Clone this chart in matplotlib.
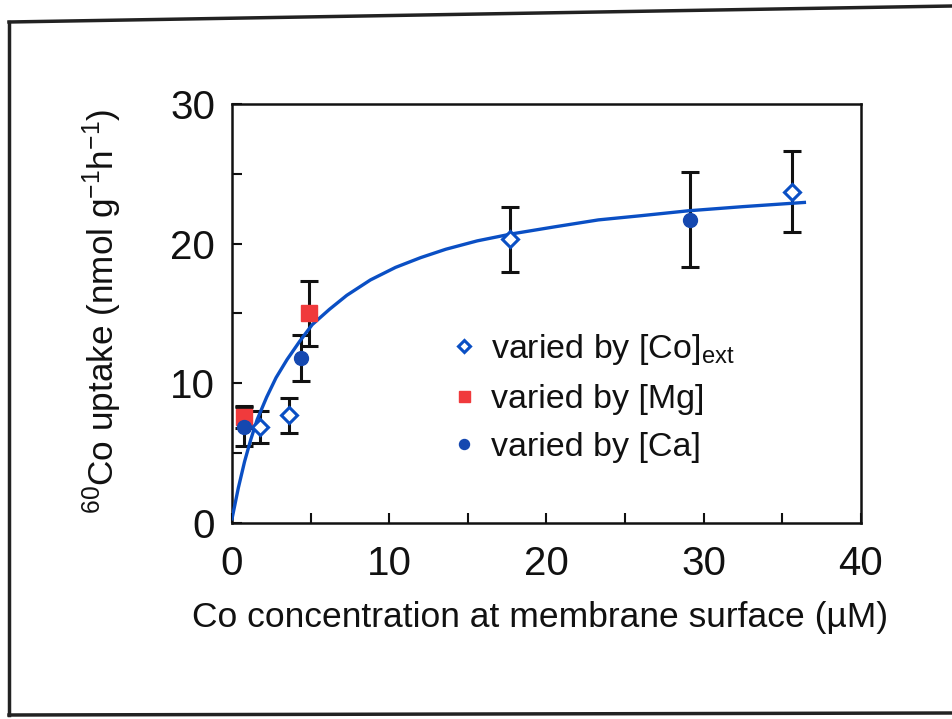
import numpy as np
import matplotlib
matplotlib.use("Agg")
import matplotlib.pyplot as plt
from matplotlib.lines import Line2D
from matplotlib.ticker import MultipleLocator

plt.rcParams["font.family"] = ["Liberation Sans", "DejaVu Sans"]
plt.rcParams["mathtext.default"] = "regular"

# data
co_x = [1.8, 3.6, 17.7, 35.6]
co_y = [6.9, 7.7, 20.3, 23.7]
co_err = [1.15, 1.25, 2.35, 2.9]

mg_x = [0.75, 4.9]
mg_y = [7.6, 15.0]
mg_err = [0.8, 2.3]

ca_x = [0.75, 4.4, 29.1]
ca_y = [6.9, 11.8, 21.7]
ca_err = [1.4, 1.65, 3.4]

# fitted saturation curve
fit_x = [0, 0.4, 0.8, 1.2, 1.6, 2.2, 2.8, 3.5, 4.3, 5.1, 6.2, 7.3, 8.8,
         10.4, 12.0, 13.6, 15.6, 17.8, 20.5, 23.3, 26.0, 29.0, 32.5, 36.4]
fit_y = [0.3, 2.5, 4.4, 6.0, 7.4, 9.0, 10.4, 11.7, 13.0, 14.2, 15.3, 16.3, 17.4,
         18.3, 19.0, 19.6, 20.2, 20.7, 21.2, 21.7, 22.0, 22.35, 22.65, 22.95]

BLUE = "#0a4fc4"
DARKBLUE = "#1548b0"
RED = "#f03a3c"
INK = "#111111"

fig = plt.figure(figsize=(9.52, 7.19), dpi=100)
ax = fig.add_axes([0.2437, 0.2726, 0.6607, 0.5828])

eb = dict(fmt="none", ecolor=INK, elinewidth=2.2, capsize=6.5, capthick=2.2, zorder=2)
ax.errorbar(co_x, co_y, yerr=co_err, **eb)
ax.errorbar(mg_x, mg_y, yerr=mg_err, **eb)
ax.errorbar(ca_x, ca_y, yerr=ca_err, **eb)

ax.plot(fit_x, fit_y, color=BLUE, lw=2.4, zorder=3)

ax.plot(co_x, co_y, ls="none", marker="D", ms=8.5, mfc="white", mec=BLUE, mew=2.2,
        zorder=5, label="varied by [Co]$_{ext}$")
ax.plot(mg_x, mg_y, ls="none", marker="s", ms=11, mfc=RED, mec=RED,
        zorder=4, label="varied by [Mg]")
ax.plot(ca_x, ca_y, ls="none", marker="o", ms=10, mfc=DARKBLUE, mec=DARKBLUE,
        zorder=5, label="varied by [Ca]")

ax.set_xlim(0, 40)
ax.set_ylim(0, 30)
ax.xaxis.set_major_locator(MultipleLocator(10))
ax.xaxis.set_minor_locator(MultipleLocator(5))
ax.yaxis.set_major_locator(MultipleLocator(10))
ax.yaxis.set_minor_locator(MultipleLocator(5))
ax.tick_params(which="both", direction="in", length=7, width=1.5, labelsize=29,
               colors=INK, pad=12)
ax.tick_params(axis="x", pad=16)
for s in ax.spines.values():
    s.set_linewidth(1.8)
    s.set_color(INK)

ax.set_xlabel("Co concentration at membrane surface (\u00b5M)", fontsize=25.5, color=INK)
ax.set_ylabel("$^{60}$Co uptake (nmol g$^{-1}$h$^{-1}$)", fontsize=25.3, color=INK)
ax.xaxis.set_label_coords(0.49, -0.185)
ax.yaxis.set_label_coords(-0.172, 0.505)

leg = ax.legend(loc="upper left", bbox_to_anchor=(0.326, 0.497), frameon=False,
                fontsize=24.5, handlelength=0.6, handletextpad=0.5, labelspacing=0.5,
                borderpad=0)
for t in leg.get_texts():
    t.set_color(INK)
for h in leg.legend_handles:
    h.set_markersize(h.get_markersize() * 0.72)

# scanned outer frame
fig.add_artist(Line2D([9 / 952, 9 / 952], [1 - 22 / 719, 1 - 715 / 719], color="#222222", lw=2.5))
fig.add_artist(Line2D([9 / 952, 1.0], [1 - 22 / 719, 1 - 6 / 719], color="#222222", lw=2.5))
fig.add_artist(Line2D([9 / 952, 1.0], [1 - 715 / 719, 1 - 713 / 719], color="#222222", lw=2.5))

fig.savefig("out.png", dpi=100)
